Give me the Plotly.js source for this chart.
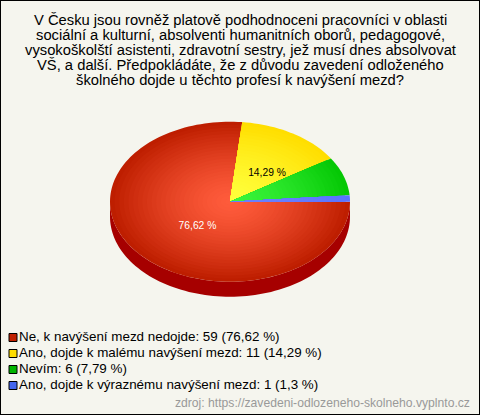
<!DOCTYPE html>
<html>
<head>
<meta charset="utf-8">
<script src="https://cdn.plot.ly/plotly-3.0.1.min.js"></script>
<style>html,body{margin:0;padding:0;background:#f5f5ee}#chart{width:480px;height:415px}</style>
</head>
<body>
<div id="chart"></div>
<script>
// Data
const titleLines = [
  'V Česku jsou rovněž platově podhodnoceni pracovníci v oblasti',
  'sociální a kulturní, absolventi humanitních oborů, pedagogové,',
  'vysokoškolští asistenti, zdravotní sestry, jež musí dnes absolvovat',
  'VŠ, a další. Předpokládáte, že z důvodu zavedení odloženého',
  'školného dojde u těchto profesí k navýšení mezd?'
];
const categories = ['Ne, k navýšení mezd nedojde', 'Ano, dojde k malému navýšení mezd', 'Nevím', 'Ano, dojde k výraznému navýšení mezd'];
const counts = [59, 11, 6, 1];
const percentText = ['76,62', '14,29', '7,79', '1,3'];
const sourceText = 'zdroj: https://zavedeni-odlozeneho-skolneho.vyplnto.cz';

// Style
const W = 480, H = 415;
const cx = 230, cy = 201.7, rx = 120, ry = 80, depth = 15;
const innerColors = [[255,92,60],[255,255,60],[60,245,60],[110,130,255]];
const outerColors = [[190,30,0],[255,222,0],[5,200,5],[90,115,255]];
const legendColors = ['#c02000','#ffdd00','#00b400','#4466ee'];
const sideColor = '#a60000';
const labelColors = ['#ffffff','#000000'];
const labelRadius = [[0.365,0.47],[0.59,0.42]];
const RINGS = 26;

const total = counts.reduce((a,b)=>a+b,0);
const traces = [];
const baseAxes = {xaxis:'x', yaxis:'y', hoverinfo:'skip', showlegend:false};

let start = 0;
const slices = counts.map(c => { const s = {a0:start, a1:start + c/total*2*Math.PI}; start = s.a1; return s; });

function arc(a0, a1, r, dy) {
  const n = Math.max(2, Math.ceil((a1-a0)/(Math.PI/90)));
  const xs = [], ys = [];
  for (let i=0;i<=n;i++){ const a=a0+(a1-a0)*i/n; xs.push(r*Math.cos(a)); ys.push(-r*Math.sin(a)-dy); }
  return [xs,ys];
}

// side wall, only where the rim faces down (clockwise angles 0..pi)
slices.forEach(s => {
  const a0 = Math.min(s.a0, Math.PI), a1 = Math.min(s.a1, Math.PI);
  if (a1 <= a0) return;
  const [x1,y1] = arc(a0,a1,1,0), [x2,y2] = arc(a0,a1,1,depth/ry);
  traces.push(Object.assign({type:'scatter',mode:'none',fill:'toself',fillcolor:sideColor,
    x:x1.concat(x2.slice().reverse()), y:y1.concat(y2.slice().reverse())}, baseAxes));
});

// slices with radial shading, outermost ring first
slices.forEach((s,i) => {
  for (let k=0;k<RINGS;k++){
    const r = 1 - k/RINGS, t = Math.pow(r,1.4);
    const col = innerColors[i].map((v,j)=>Math.round(v+(outerColors[i][j]-v)*t));
    const [xs,ys] = arc(s.a0,s.a1,r,0);
    traces.push(Object.assign({type:'scatter',mode:'none',fill:'toself',fillcolor:`rgb(${col})`,
      x:[0].concat(xs,[0]), y:[0].concat(ys,[0])}, baseAxes));
  }
});

// value labels on the two big slices
labelRadius.forEach((lr,i) => {
  const mid = (slices[i].a0+slices[i].a1)/2;
  traces.push(Object.assign({type:'scatter',mode:'text',
    x:[lr[0]*Math.cos(mid)], y:[-lr[1]*Math.sin(mid)], text:[percentText[i]+' %'],
    textposition:'middle center', cliponaxis:false,
    textfont:{family:'Liberation Sans, Arial, sans-serif',size:10.3,color:labelColors[i]}}, baseAxes));
});

// legend rows on their own axes
traces.push({type:'scatter',mode:'markers+text',xaxis:'x2',yaxis:'y2',hoverinfo:'skip',showlegend:false,
  x:categories.map(()=>13), y:categories.map((c,i)=>i),
  text:categories.map((c,i)=>`${c}: ${counts[i]} (${percentText[i]} %)`),
  textposition:'middle right', cliponaxis:false,
  textfont:{family:'Liberation Sans, Arial, sans-serif',size:13.4,color:'#000'},
  marker:{symbol:'square',size:8,color:legendColors,line:{color:'#000',width:1}}
});

const hidden = {visible:false, fixedrange:true};
const layout = {
  width:W, height:H, margin:{l:0,r:0,t:0,b:0},
  paper_bgcolor:'#f5f5ee', plot_bgcolor:'#f5f5ee', showlegend:false, hovermode:false,
  xaxis:Object.assign({range:[-cx/rx,(W-cx)/rx]},hidden),
  yaxis:Object.assign({range:[-(H-cy)/ry,cy/ry]},hidden),
  xaxis2:Object.assign({range:[0,W],overlaying:'x'},hidden),
  yaxis2:Object.assign({range:[(H-337.5)/16,-337.5/16],overlaying:'y'},hidden),
  shapes:[{type:'rect',xref:'paper',yref:'paper',x0:0,x1:1,y0:0,y1:1,line:{color:'#000',width:2},fillcolor:'rgba(0,0,0,0)'}],
  annotations: titleLines.map((t,i)=>({
    text:t, xref:'paper', yref:'paper', x:0.5, y:1-(20+15*i)/H, xanchor:'center', yanchor:'middle', showarrow:false,
    font:{family:'Liberation Sans, Arial, sans-serif',size:14.75,color:'#000'}
  })).concat([{
    text:sourceText, xref:'paper', yref:'paper', x:472/W, y:1-403/H, xanchor:'right', yanchor:'middle', showarrow:false,
    font:{family:'Liberation Sans, Arial, sans-serif',size:12.15,color:'#999999'}
  }])
};
Plotly.newPlot('chart', traces, layout, {displayModeBar:false, staticPlot:true});
</script>
</body>
</html>
